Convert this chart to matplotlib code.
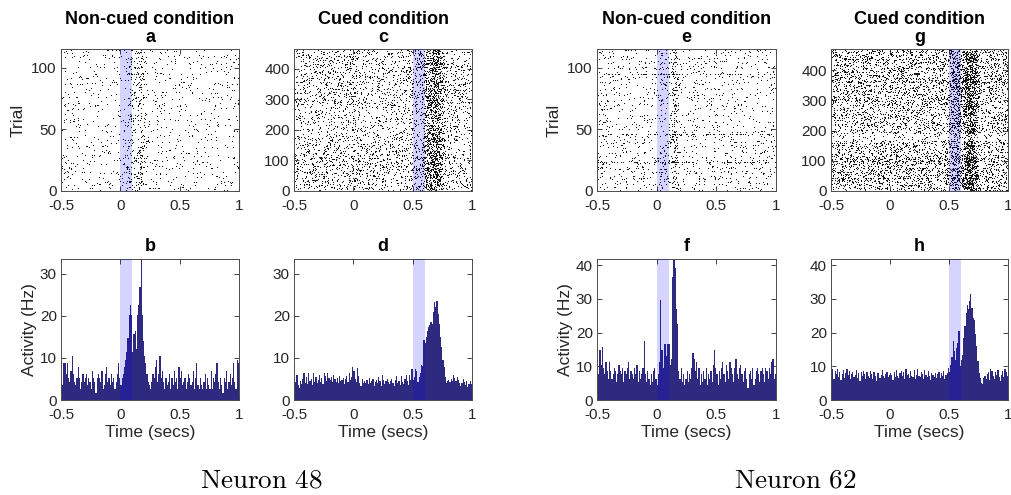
import numpy as np
import matplotlib as mpl
mpl.use('Agg')
import matplotlib.pyplot as plt

plt.rcParams['font.family'] = ['Liberation Sans', 'DejaVu Sans']
plt.rcParams['mathtext.fontset'] = 'cm'

# time bins (10 ms) from -0.5 to 1 s
BW = 0.01
edges = np.round(np.arange(-0.5, 1.0 + BW / 2, BW), 3)

# PSTH values (Hz), one per 10 ms bin
rate_b = [5.2, 3.5, 8.7, 8.7, 6.1, 8.7, 5.2, 4.3, 6.9, 10.4,
          6.1, 4.3, 3.5, 5.2, 7.8, 5.2, 2.6, 4.3, 6.1, 4.3,
          5.2, 6.1, 3.5, 5.2, 4.3, 2.6, 6.9, 5.2, 4.3, 1.7,
          5.2, 6.1, 5.2, 4.3, 6.9, 2.6, 3.5, 6.1, 7.8, 4.3,
          5.2, 3.5, 6.1, 4.3, 5.2, 2.6, 4.3, 6.1, 8.7, 5.2,
          3.5, 5.2, 6.1, 7.8, 9.5, 11.3, 14.8, 20.3, 22.6, 20.3,
          11.3, 15.6, 16.5, 12.2, 20.3, 22.6, 26.9, 33.5, 20.3, 13.9,
          10.4, 8.7, 6.1, 4.3, 3.5, 2.6, 4.3, 6.1, 5.2, 7.8,
          9.5, 4.3, 6.1, 10.4, 5.2, 6.9, 4.3, 2.6, 5.2, 3.5,
          4.3, 6.1, 2.6, 5.2, 3.5, 6.9, 4.3, 5.2, 2.6, 7.8,
          5.2, 6.9, 3.5, 4.3, 5.2, 2.6, 4.3, 6.1, 5.2, 3.5,
          4.3, 6.9, 2.6, 5.2, 8.7, 3.5, 2.6, 5.2, 3.5, 2.6,
          4.3, 6.1, 2.6, 5.2, 3.5, 2.6, 6.9, 2.6, 5.2, 4.3,
          6.1, 8.7, 4.3, 2.6, 5.2, 3.5, 1.7, 5.2, 4.3, 6.9,
          2.6, 4.3, 6.1, 3.5, 5.2, 8.7, 4.3, 2.6, 9.5, 8.7]

rate_d = [3.0, 4.3, 6.0, 3.5, 2.8, 4.5, 3.8, 5.0, 6.3, 4.0,
          5.5, 3.8, 6.3, 4.5, 5.0, 3.5, 6.3, 4.2, 5.5, 4.0,
          4.8, 6.0, 4.3, 5.2, 3.8, 6.3, 5.8, 4.5, 6.3, 5.2,
          4.8, 5.5, 4.3, 6.0, 5.0, 4.3, 5.3, 4.0, 5.8, 4.5,
          4.8, 5.3, 3.8, 5.0, 5.8, 4.3, 6.5, 4.8, 5.5, 7.8,
          6.8, 5.0, 4.3, 7.5, 5.8, 4.0, 3.3, 5.0, 4.0, 4.5,
          4.0, 4.8, 3.8, 5.3, 4.0, 4.5, 5.0, 3.3, 4.3, 4.8,
          4.0, 5.5, 4.5, 3.3, 6.0, 4.8, 3.8, 4.5, 5.0, 4.3,
          3.8, 4.5, 5.0, 4.0, 3.3, 4.8, 5.8, 4.0, 4.5, 3.5,
          5.8, 4.3, 3.8, 5.0, 6.0, 4.5, 3.5, 6.0, 4.8, 7.3,
          4.8, 5.5, 7.3, 6.8, 4.3, 5.5, 6.5, 8.3, 8.0, 14.2,
          13.5, 15.0, 16.5, 17.3, 17.8, 18.5, 18.0, 20.8, 23.2, 22.0,
          23.5, 20.5, 18.0, 15.0, 12.5, 9.5, 7.8, 5.5, 4.0, 4.5,
          4.8, 4.3, 5.0, 4.5, 6.0, 5.3, 4.5, 5.5, 4.8, 4.0,
          3.3, 4.0, 5.0, 4.3, 3.5, 4.5, 3.0, 3.8, 4.5, 3.8]

rate_f = [8.7, 7.8, 14.8, 10.4, 15.7, 9.6, 7.8, 11.3, 8.7, 6.1,
          11.3, 8.7, 6.1, 7.8, 9.6, 8.7, 5.2, 7.8, 10.4, 8.7,
          7.8, 9.6, 5.2, 8.7, 7.8, 9.6, 11.3, 6.1, 8.7, 7.8,
          6.1, 9.6, 7.8, 10.4, 5.2, 8.7, 6.1, 7.8, 9.6, 17.4,
          7.8, 5.2, 8.7, 6.1, 4.3, 7.8, 5.2, 8.7, 9.6, 6.1,
          4.3, 7.8, 11.3, 29.6, 14.8, 9.6, 16.5, 16.5, 13.0, 16.5,
          16.5, 10.4, 12.2, 36.5, 41.8, 39.1, 27.0, 22.6, 8.7, 6.1,
          9.6, 5.2, 7.8, 4.3, 6.1, 8.7, 5.2, 7.8, 6.1, 9.6,
          13.9, 12.2, 8.7, 11.3, 6.1, 9.6, 4.3, 7.8, 5.2, 8.7,
          6.1, 9.6, 4.3, 7.8, 6.1, 8.7, 5.2, 10.4, 14.8, 9.6,
          7.8, 4.3, 8.7, 6.1, 9.6, 11.3, 7.8, 5.2, 10.4, 8.7,
          6.1, 11.3, 9.6, 7.8, 5.2, 9.6, 12.2, 7.8, 6.1, 9.6,
          10.4, 7.8, 5.2, 8.7, 9.6, 6.1, 3.5, 7.8, 8.7, 6.1,
          9.6, 4.3, 6.1, 8.7, 9.6, 7.8, 5.2, 8.7, 9.6, 7.8,
          5.2, 9.6, 8.7, 6.1, 9.6, 7.8, 11.3, 12.2, 6.1, 7.8]

rate_h = [7.2, 9.1, 6.3, 8.7, 7.6, 9.3, 6.8, 8.2, 5.9, 7.8,
          8.9, 6.6, 8.0, 9.1, 7.4, 8.5, 6.1, 7.8, 8.4, 6.9,
          7.5, 8.8, 6.4, 7.9, 5.6, 8.2, 7.1, 8.6, 7.7, 6.3,
          8.4, 7.0, 6.5, 8.7, 7.6, 6.2, 8.3, 7.2, 5.7, 7.9,
          8.1, 6.6, 7.4, 8.9, 7.1, 6.4, 7.8, 8.4, 6.7, 7.3,
          8.0, 7.5, 5.9, 8.3, 6.8, 9.0, 7.2, 6.5, 7.9, 8.6,
          7.0, 8.2, 6.1, 9.2, 7.4, 7.8, 6.6, 8.5, 7.1, 6.9,
          8.8, 6.3, 7.5, 9.1, 7.0, 6.8, 8.3, 7.6, 6.2, 8.9,
          7.3, 6.7, 8.6, 7.2, 5.8, 8.1, 7.4, 6.9, 8.0, 6.4,
          7.6, 8.4, 6.6, 7.9, 7.0, 8.7, 6.2, 7.4, 8.0, 9.4,
          8.2, 10.3, 12.6, 17.4, 14.6, 12.0, 15.3, 17.0, 20.6, 10.0,
          11.8, 13.4, 18.3, 22.0, 25.9, 28.2, 27.0, 29.4, 31.3, 27.3,
          24.3, 23.6, 19.5, 16.0, 11.5, 8.0, 6.5, 5.0, 4.8, 6.6,
          7.0, 6.3, 7.6, 8.2, 6.0, 9.3, 8.6, 7.1, 6.2, 8.4,
          7.5, 9.0, 6.8, 5.6, 7.4, 8.7, 6.9, 9.1, 8.2, 7.0]

# trial counts per raster and relative spike density per band of trials (bottom -> top)
ntr_a, ntr_c, ntr_e, ntr_g = 115, 465, 115, 470
band_a = [1.2, 1.2, 1.1, 1.0, 1.0, 0.9, 0.9, 1.0, 0.9, 1.0]
band_c = [1.1, 1.2, 1.1, 1.0, 0.8, 0.8, 1.0, 1.0, 1.0, 1.0]
band_e = [1.1, 1.3, 1.0, 1.2, 0.9, 0.9, 1.0, 1.0, 1.1, 0.9]
band_g = [1.0, 1.2, 1.3, 1.1, 1.2, 1.0, 1.1, 0.35, 1.0, 1.0,
          1.0, 0.9, 1.1, 1.0, 1.0, 1.2, 1.1, 1.0, 1.2, 1.1]
dense_e = [24, 47, 95]
dense_g = [45, 100, 360]

cue_noncued = (0.0, 0.1)
cue_cued = (0.5, 0.6)

BAR = '#2e2a80'
INK = '#262626'


def trial_weights(bands, ntr, dense):
    w = np.repeat(bands, int(np.ceil(ntr / len(bands))))[:ntr].astype(float)
    for t in dense:
        w[t - 1] *= 5
    return w


def raster_points(rates, ntr, w):
    # spread each bin's spike count over trials with a cubic Weyl sequence
    cdf = np.cumsum(w) / w.sum()
    counts = np.round(np.asarray(rates) * ntr * BW).astype(int)
    m = np.arange(counts.sum(), dtype=float)
    u = (m ** 3 * 0.1715728753 + m * m * 0.4142135623 + m * 0.6180339887) % 1
    v = (m ** 3 * 0.3166247904 + m * m * 0.7320508075 + m * 0.2360679775) % 1
    tbin = np.repeat(edges[:-1], counts)
    return tbin + v * BW, np.searchsorted(cdf, u) + 0.5


def style(ax):
    ax.set_xlim(-0.5, 1)
    ax.set_xticks([-0.5, 0, 0.5, 1])
    ax.set_xticklabels(['-0.5', '0', '0.5', '1'])
    ax.tick_params(direction='in', top=True, right=True, length=3.5,
                   width=0.6, color=INK, labelcolor=INK, labelsize=11, pad=3)
    ax.tick_params(axis='x', pad=6)
    for s in ax.spines.values():
        s.set_color('0.3')
        s.set_linewidth(0.7)


def px(l, r, t, b):
    return [l / 1011, 1 - b / 495, (r - l) / 1011, (b - t) / 495]


fig = plt.figure(figsize=(10.11, 4.95), dpi=100)

cols = [(61, 239), (294, 472), (597, 776), (831, 1008)]
rasters = [(rate_b, ntr_a, band_a, [], cue_noncued, 'Non-cued condition\na', [0, 50, 100]),
           (rate_d, ntr_c, band_c, [], cue_cued, 'Cued condition\nc', [0, 100, 200, 300, 400]),
           (rate_f, ntr_e, band_e, dense_e, cue_noncued, 'Non-cued condition\ne', [0, 50, 100]),
           (rate_h, ntr_g, band_g, dense_g, cue_cued, 'Cued condition\ng', [0, 100, 200, 300, 400])]
hists = [(rate_b, cue_noncued, 'b'), (rate_d, cue_cued, 'd'),
         (rate_f, cue_noncued, 'f'), (rate_h, cue_cued, 'h')]
hist_top = [max(max(rate_b), max(rate_d))] * 2 + [max(max(rate_f), max(rate_h))] * 2

for i, (l, r) in enumerate(cols):
    rates, ntr, bands, dense, cue, title, yt = rasters[i]
    ax = fig.add_axes(px(l, r, 49, 191))
    ts, ys = raster_points(rates, ntr, trial_weights(bands, ntr, dense))
    ax.plot(ts, ys, ls='', marker='s', ms=0.75, mew=0, color='0.08', zorder=2)
    ax.axvspan(*cue, color='blue', alpha=0.17, lw=0, zorder=3)
    ax.set_ylim(0, ntr)
    ax.set_yticks(yt)
    style(ax)
    ax.set_title(title, fontsize=13, fontweight='bold', pad=5, linespacing=1.1)
    if i in (0, 2):
        ax.set_ylabel('Trial', fontsize=12.5, color=INK, labelpad=4)

    hr, hcue, htitle = hists[i]
    ax = fig.add_axes(px(l, r, 259, 400))
    ax.stairs(hr, edges, fill=True, color=BAR, lw=0, zorder=2)
    ax.axvspan(*hcue, color='blue', alpha=0.17, lw=0, zorder=3)
    ax.set_ylim(0, hist_top[i])
    ax.set_yticks(np.arange(0, hist_top[i], 10))
    style(ax)
    ax.set_title(htitle, fontsize=13, fontweight='bold', pad=6)
    ax.set_xlabel('Time (secs)', fontsize=12.5, color=INK, labelpad=2)
    if i in (0, 2):
        ax.set_ylabel('Activity (Hz)', fontsize=12.5, color=INK, labelpad=2)

fig.text(261 / 1011, 1 - 480 / 495, r'$\mathrm{Neuron\ 48}$', fontsize=19.5, ha='center', va='center')
fig.text(795 / 1011, 1 - 480 / 495, r'$\mathrm{Neuron\ 62}$', fontsize=19.5, ha='center', va='center')

fig.savefig('out.png', dpi=100)
